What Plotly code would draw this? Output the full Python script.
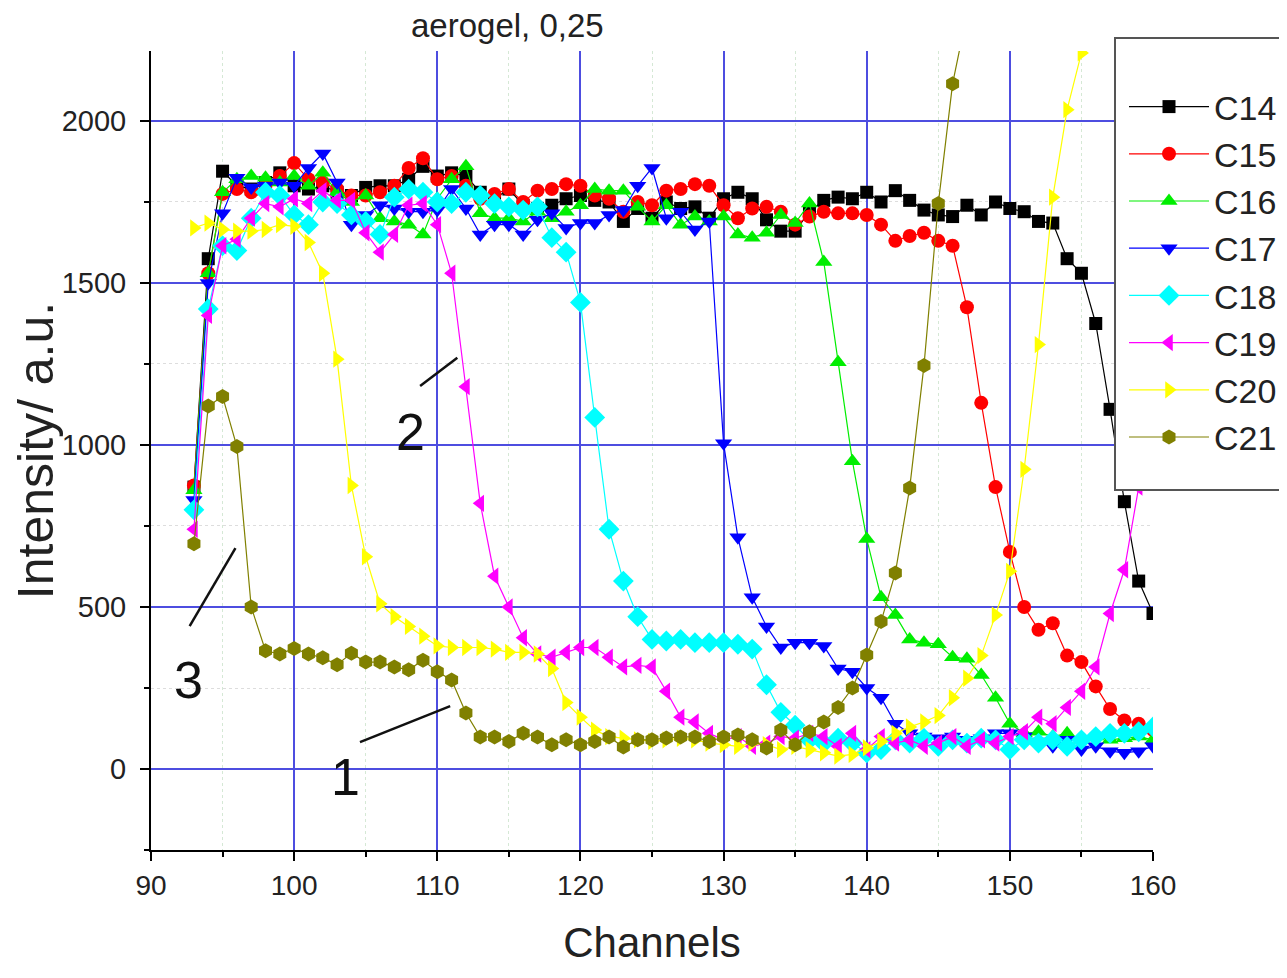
import plotly.graph_objects as go

channels = list(range(93, 161))

c14 = [870, 1575, 1845, 1800, 1790, 1810, 1840, 1800, 1790, 1800, 1780, 1770, 1795, 1800, 1800, 1820, 1860, 1830,
       1840, 1830, 1780, 1760, 1790, 1740, 1730, 1740, 1760, 1770, 1755, 1750, 1690, 1730, 1700, 1750, 1730, 1735,
       1700, 1760, 1780, 1760, 1695, 1660, 1660, 1720, 1755, 1765, 1760, 1780, 1750, 1785, 1755, 1725, 1710, 1705,
       1740, 1710, 1750, 1730, 1720, 1690, 1685, 1575, 1530, 1375, 1110, 825, 580, 480]
c15 = [875, 1530, 1775, 1790, 1780, 1800, 1830, 1870, 1820, 1810, 1790, 1770, 1770, 1780, 1800, 1855, 1885, 1820,
       1830, 1800, 1760, 1775, 1790, 1750, 1785, 1790, 1805, 1800, 1770, 1760, 1720, 1750, 1740, 1785, 1790, 1805,
       1800, 1740, 1700, 1730, 1735, 1720, 1680, 1705, 1720, 1715, 1715, 1710, 1680, 1630, 1645, 1655, 1630, 1615,
       1425, 1130, 870, 670, 500, 430, 450, 350, 330, 255, 185, 150, 140, 120]
c16 = [860, 1530, 1780, 1820, 1830, 1825, 1810, 1830, 1800, 1840, 1780, 1750, 1770, 1700, 1690, 1680, 1650, 1760,
       1820, 1860, 1715, 1700, 1700, 1690, 1720, 1700, 1720, 1740, 1790, 1785, 1785, 1735, 1690, 1740, 1680, 1705,
       1690, 1705, 1650, 1640, 1655, 1710, 1685, 1745, 1565, 1255, 950, 710, 530, 475, 400, 390, 385, 345,
       340, 290, 220, 140, 110, 115, 100, 110, 90, 100, 90, 95, 100, 90]
c17 = [830, 1500, 1715, 1825, 1795, 1800, 1810, 1800, 1855, 1900, 1810, 1680, 1710, 1740, 1730, 1720, 1720, 1725,
       1790, 1730, 1650, 1680, 1680, 1650, 1695, 1715, 1670, 1685, 1685, 1710, 1725, 1800, 1855, 1700, 1720, 1665,
       1690, 1005, 715, 530, 440, 375, 390, 390, 380, 310, 300, 250, 220, 140, 110, 100, 95, 100,
       90, 95, 110, 110, 100, 85, 70, 90, 60, 70, 55, 50, 55, 70]
c18 = [800, 1420, 1615, 1600, 1700, 1780, 1770, 1710, 1680, 1750, 1745, 1710, 1690, 1650, 1765, 1790, 1780, 1750,
       1745, 1780, 1770, 1745, 1735, 1725, 1735, 1640, 1595, 1440, 1085, 740, 580, 470, 400, 395, 400, 390,
       390, 390, 385, 370, 260, 175, 135, 90, 80, 95, 80, 50, 60, 90, 80, 95, 70, 90,
       80, 95, 90, 60, 90, 80, 90, 70, 90, 100, 110, 110, 115, 130]
c19 = [740, 1400, 1615, 1635, 1700, 1745, 1735, 1760, 1745, 1785, 1755, 1755, 1655, 1595, 1650, 1740, 1745, 1680,
       1530, 1180, 820, 595, 500, 405, 355, 345, 360, 375, 375, 345, 315, 320, 315, 240, 160, 145,
       110, 90, 100, 70, 80, 100, 95, 110, 100, 70, 110, 60, 100, 80, 90, 70, 80, 100,
       70, 90, 80, 100, 115, 160, 140, 190, 240, 315, 480, 615, 870, 1100]
c20 = [1670, 1685, 1665, 1660, 1660, 1665, 1680, 1675, 1625, 1530, 1265, 875, 655, 510, 470, 440, 410, 380,
       375, 375, 375, 370, 360, 360, 355, 310, 205, 160, 120, 100, 95, 90, 85, 90, 95, 90,
       80, 75, 70, 80, 75, 60, 70, 60, 50, 40, 45, 65, 85, 110, 130, 145, 165, 220,
       280, 350, 475, 610, 925, 1310, 1765, 2035, 2210, 2290, None, None, None, None]
c21 = [695, 1120, 1150, 995, 500, 365, 355, 372, 355, 343, 322, 357, 330, 330, 315, 306, 336, 300,
       275, 173, 99, 99, 85, 110, 99, 75, 90, 75, 85, 99, 68, 90, 90, 96, 99, 99,
       85, 99, 105, 90, 65, 120, 75, 115, 145, 190, 250, 352, 455, 605, 867, 1245, 1745, 2115,
       2330, None, None, None, None, None, None, None, None, None, None, None, None, None]

series_names = ["C14", "C15", "C16", "C17", "C18", "C19", "C20", "C21"]
series_values = [c14, c15, c16, c17, c18, c19, c20, c21]
series_colors = ["#000000", "#FF0000", "#00EE00", "#0000FF", "#00FFFF", "#FF00FF", "#FFFF00", "#808000"]
series_symbols = ["square", "circle", "triangle-up", "triangle-down", "diamond",
                  "triangle-left", "triangle-right", "hexagon"]
series_sizes = [13, 14, 15, 15, 16, 15, 15, 15]

title_text = "aerogel, 0,25"
x_title = "Channels"
y_title = "Intensity/ a.u."

# curve labels: (text, x, y) and pointer lines (x0, y0, x1, y1) in data units
curve_labels = [("1", 103.6, -25), ("2", 108.1, 1040), ("3", 92.6, 275)]
pointer_lines = [(104.6, 83, 110.9, 194), (108.8, 1182, 111.4, 1269), (92.7, 441, 95.9, 682)]

FONT = "Liberation Sans, Arial, sans-serif"
OFF = 8  # page body margin in the browser
W, H = 1287 - OFF, 978 - OFF
# plot area in reference pixels: left 151, right 1153, top 51, bottom 850
PL, PR, PT, PB = 151, 1153, 51, 850
ML, MT = PL - OFF, PT - OFF
MR = W - (PR - OFF)
MB = H - (PB - OFF)

fig = go.Figure()
for name, vals, col, sym, sz in zip(series_names, series_values, series_colors, series_symbols, series_sizes):
    fig.add_trace(go.Scatter(
        x=channels, y=vals, name=name, mode="lines+markers",
        line=dict(color=col, width=1.2),
        marker=dict(symbol=sym, size=sz, color=col, line=dict(width=0)),
        legendgroup=name, connectgaps=False,
    ))

grid_blue = "#4D4DE0"
fig.update_xaxes(
    range=[90, 160], dtick=10, tick0=90, automargin=False,
    showgrid=True, gridcolor=grid_blue, gridwidth=1.5,
    showline=True, linecolor="black", linewidth=2,
    ticks="outside", ticklen=9, tickwidth=2, tickcolor="black",
    minor=dict(dtick=5, showgrid=True, gridcolor="#D5E8D5", griddash="dot", gridwidth=1,
               ticks="outside", ticklen=5, tickcolor="black"),
    tickfont=dict(family=FONT, size=28, color="#222"),
    title=dict(text=x_title, font=dict(family=FONT, size=42, color="#222"), standoff=28),
    zeroline=False, mirror=False,
)
fig.update_yaxes(
    range=[-250, 2216], dtick=500, tick0=0, automargin=False,
    showgrid=True, gridcolor=grid_blue, gridwidth=1.5,
    showline=True, linecolor="black", linewidth=2,
    ticks="outside", ticklen=9, tickwidth=2, tickcolor="black",
    minor=dict(dtick=250, showgrid=True, gridcolor="#DDDDDD", griddash="dot", gridwidth=1,
               ticks="outside", ticklen=5, tickcolor="black"),
    tickfont=dict(family=FONT, size=29, color="#222"), ticklabelstandoff=8,
    title=dict(text=y_title, font=dict(family=FONT, size=50, color="#222"), standoff=8),
    zeroline=False, mirror=False,
)

pw = PR - PL
ph = PB - PT
def px2paper_x(px):
    return (px - PL) / pw
def px2paper_y(py):
    return 1 - (py - PT) / ph

# legend box
fig.add_shape(type="rect", xref="paper", yref="paper",
              x0=px2paper_x(1115), x1=px2paper_x(1300), y0=px2paper_y(490), y1=px2paper_y(38),
              line=dict(color="#555", width=2), fillcolor="white", layer="above")

for (x0, y0, x1, y1) in pointer_lines:
    fig.add_shape(type="line", x0=x0, y0=y0, x1=x1, y1=y1, xref="x", yref="y",
                  line=dict(color="#111", width=2.5), layer="above")
for (t, x, y) in curve_labels:
    fig.add_annotation(x=x, y=y, text=t, showarrow=False, xref="x", yref="y",
                       font=dict(family=FONT, size=52, color="#111"))

fig.add_annotation(x=px2paper_x(507), y=px2paper_y(25), xref="paper", yref="paper",
                   text=title_text, showarrow=False, yanchor="middle",
                   font=dict(family=FONT, size=33, color="#222"))

fig.update_layout(
    width=W, height=H,
    margin=dict(l=ML, r=MR, t=MT, b=MB, pad=0, autoexpand=False),
    paper_bgcolor="white", plot_bgcolor="white",
    showlegend=True,
    legend=dict(x=px2paper_x(1124), y=px2paper_y(78), xanchor="left", yanchor="top",
                bgcolor="rgba(0,0,0,0)", borderwidth=0,
                font=dict(family=FONT, size=34, color="#222"),
                tracegroupgap=12, traceorder="normal", itemwidth=80),
)

fig.write_html("out.html")
